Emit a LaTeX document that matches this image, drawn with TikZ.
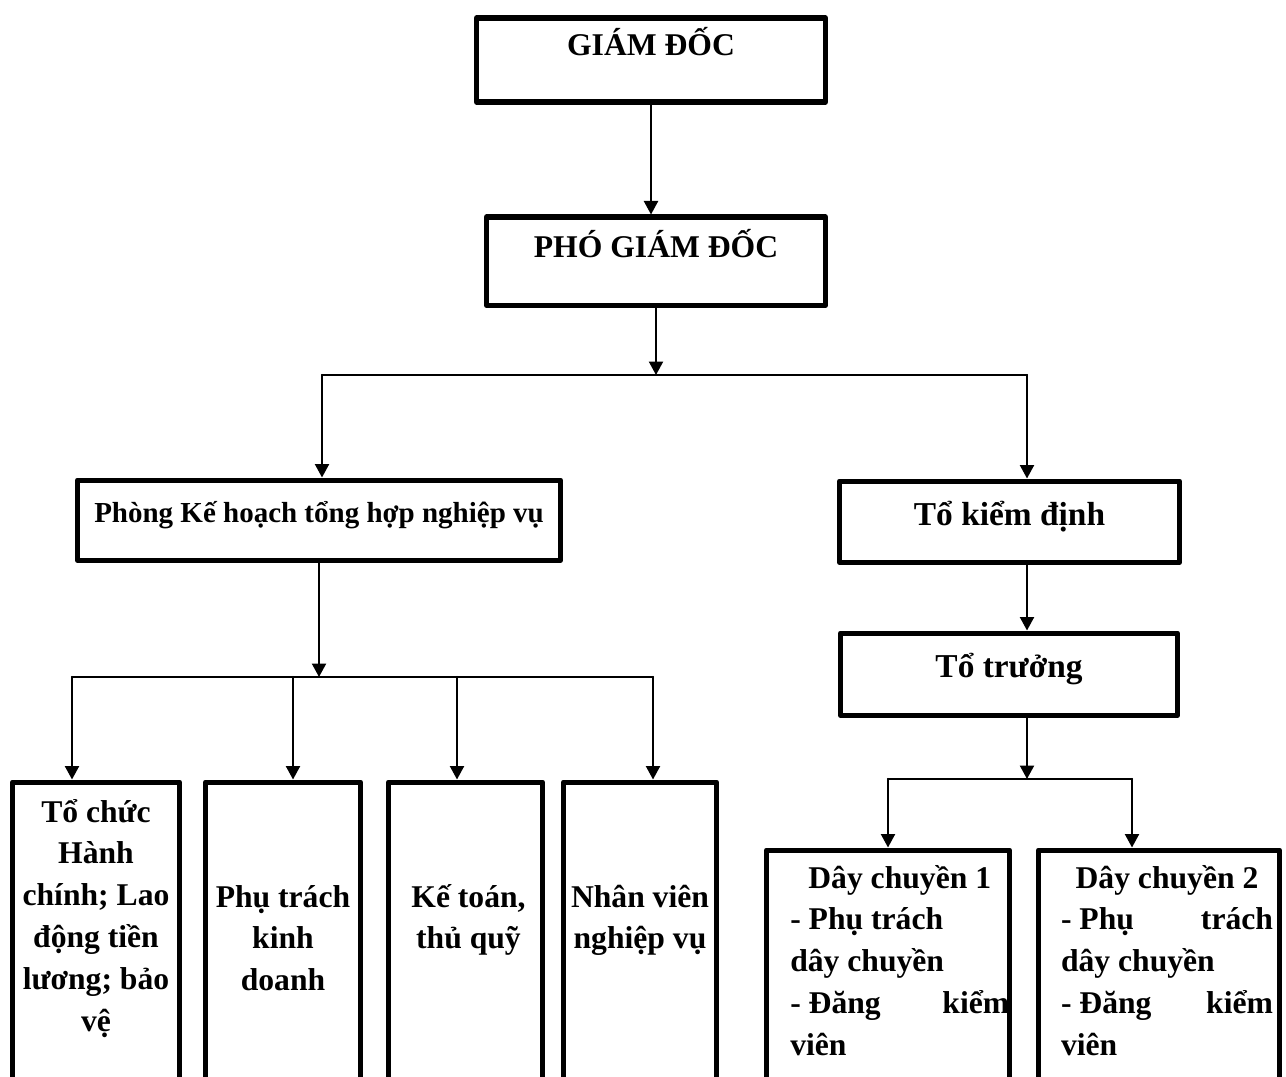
\documentclass[tikz,border=0pt]{standalone}
\usepackage{fontspec}
\setmainfont{Liberation Serif}
\usetikzlibrary{arrows.meta}

\tikzset{
  box/.style={draw, line width=3pt, inner sep=0pt, anchor=north},
  line/.style={line width=1.3pt},
  lbl/.style={anchor=base, inner sep=0pt, font=\bfseries\fontsize{18}{23.8}\selectfont},
}

\begin{document}
\begin{tikzpicture}[line join=round, line cap=round, >={Triangle[length=0.27cm,width=0.28cm]}]
	\useasboundingbox (0,0) rectangle (25.72,-21.54);
	\clip (0,0) rectangle (25.72,-21.54);

	\node[box, minimum width=6.98cm, text height=0.75cm, text depth=0.93cm, font=\bfseries\fontsize{18}{22}\selectfont] (gd) at (13.02,-0.31) {GIÁM ĐỐC};
	\node[box, minimum width=6.78cm, text height=0.81cm, text depth=0.95cm, font=\bfseries\fontsize{18}{22}\selectfont] (pgd) at (13.12,-4.29) {PHÓ GIÁM ĐỐC};
	\node[box, minimum width=9.66cm, text height=0.85cm, text depth=0.75cm, font=\bfseries\fontsize{16.5}{20}\selectfont] (khth) at (6.38,-9.55) {Phòng Kế hoạch tổng hợp nghiệp vụ};
	\node[box, minimum width=6.8cm, text height=0.89cm, text depth=0.73cm, font=\bfseries\fontsize{19}{23}\selectfont] (tkd) at (20.19,-9.57) {Tổ kiểm định};
	\node[box, minimum width=6.74cm, text height=0.89cm, text depth=0.75cm, font=\bfseries\fontsize{19}{23}\selectfont] (tt) at (20.18,-12.61) {Tổ trưởng};

	\node[box, minimum width=3.34cm, minimum height=6.6cm] (b1) at (1.92,-15.59) {};
	\node[box, minimum width=3.1cm, minimum height=6.6cm] (b2) at (5.66,-15.59) {};
	\node[box, minimum width=3.08cm, minimum height=6.6cm] (b3) at (9.31,-15.59) {};
	\node[box, minimum width=3.06cm, minimum height=6.6cm] (b4) at (12.8,-15.59) {};
	\node[box, minimum width=4.86cm, minimum height=5.5cm] (dc1) at (17.76,-16.95) {};
	\node[box, minimum width=4.82cm, minimum height=5.5cm] (dc2) at (23.18,-16.95) {};

	\node[lbl, text width=3.2cm, align=flush center] (b1t) at (1.92,-16.44) {Tổ chức\\ Hành\\ chính; Lao\\ động tiền\\ lương; bảo\\ vệ};
	\node[lbl, text width=3cm, align=flush center] (b2t) at (5.66,-18.14) {Phụ trách\\ kinh\\ doanh};
	\node[lbl, text width=3cm, align=flush center] (b3t) at (9.37,-18.14) {Kế toán,\\ thủ quỹ};
	\node[lbl, text width=3cm, align=flush center] (b4t) at (12.8,-18.14) {Nhân viên\\ nghiệp vụ};
	\node[lbl, text width=4.38cm, align=flush left] (dc1t) at (17.995,-17.76) {\hfill Dây chuyền 1\hfill\null\\ - Phụ trách\\ dây chuyền\\ - Đăng \hfill kiểm\\ viên};
	\node[lbl, text width=4.24cm, align=flush left] (dc2t) at (23.34,-17.76) {\hfill Dây chuyền 2\hfill\null\\ - Phụ \hfill trách\\ dây chuyền\\ - Đăng \hfill kiểm\\ viên};

	\coordinate (p1) at (6.44,-7.5);
	\coordinate (p2) at (20.54,-7.5);
	\coordinate (q1) at (1.44,-13.54);
	\coordinate (q2) at (5.86,-13.54);
	\coordinate (q3) at (9.14,-13.54);
	\coordinate (q4) at (13.06,-13.54);
	\coordinate (r1) at (17.76,-15.58);
	\coordinate (r2) at (22.64,-15.58);

	\draw[line,->] (gd.south) -- (gd.south |- pgd.north);
	\draw[line,->] (pgd.south) -- (pgd.south |- p1);
	\draw[line] (p1) -- (p2);
	\draw[line,->] (p1) -- (p1 |- khth.north);
	\draw[line,->] (p2) -- (p2 |- tkd.north);
	\draw[line,->] (tkd.south -| p2) -- (p2 |- tt.north);
	\draw[line,->] (khth.south) -- (khth.south |- q1);
	\draw[line] (q1) -- (q4);
	\foreach \q/\b in {q1/b1, q2/b2, q3/b3, q4/b4}
		\draw[line,->] (\q) -- (\q |- \b.north);
	\draw[line,->] (tt.south -| p2) -- (p2 |- r1);
	\draw[line] (r1) -- (r2);
	\foreach \r/\b in {r1/dc1, r2/dc2}
		\draw[line,->] (\r) -- (\r |- \b.north);
\end{tikzpicture}
\end{document}
